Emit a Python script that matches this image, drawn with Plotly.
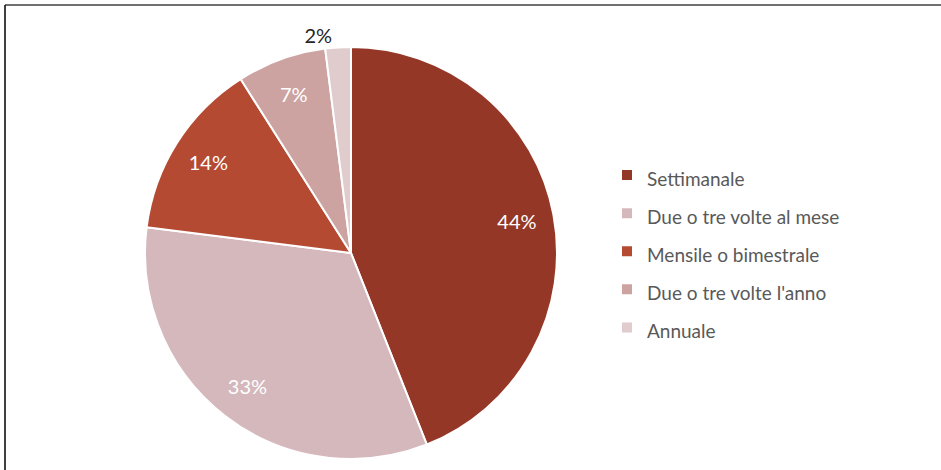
import plotly.graph_objects as go

labels = ["Settimanale", "Due o tre volte al mese", "Mensile o bimestrale",
          "Due o tre volte l'anno", "Annuale"]
values = [44, 33, 14, 7, 2]
colors = ["#943726", "#d5b8bc", "#b54a33", "#cca3a1", "#e0cbcd"]
text_positions = ["inside", "inside", "inside", "inside", "outside"]
text_colors = ["white", "white", "white", "white", "#262626"]

W, H = 941, 470
cx, cy, r = 351, 253, 206
dom = dict(x=[(cx - r) / W, (cx + r) / W],
           y=[(H - cy - r) / H, (H - cy + r) / H])

legend_names = ['<span style="font-size:19px">%s</span>' % s for s in labels]

# full pie with colours and legend
fig = go.Figure(go.Pie(
    labels=legend_names,
    values=values,
    sort=False,
    direction="clockwise",
    rotation=0,
    marker=dict(colors=colors, line=dict(color="white", width=2)),
    textinfo="none",
    hovertemplate="%{label}: %{percent:.0%}<extra></extra>",
    domain=dom,
))

# same pie as transparent ring, only for placing the percentage labels
fig.add_trace(go.Pie(
    labels=legend_names,
    values=values,
    sort=False,
    direction="clockwise",
    rotation=0,
    hole=0.64,
    marker=dict(colors=["rgba(0,0,0,0)"] * len(values),
                line=dict(color="rgba(0,0,0,0)", width=0)),
    texttemplate="%{percent:.0%}",
    textposition=text_positions,
    insidetextorientation="horizontal",
    textfont=dict(family="Lato", size=20, color=text_colors),
    hoverinfo="skip",
    showlegend=False,
    domain=dom,
))

fig.update_layout(
    width=W, height=H,
    margin=dict(l=0, r=0, t=0, b=0),
    paper_bgcolor="white",
    font=dict(family="Lato", color="#595959"),
    legend=dict(
        x=607 / W, xanchor="left",
        y=1 - 151 / H, yanchor="top",
        font=dict(family="Lato", size=27, color="#595959"),
    ),
    shapes=[
        dict(type="line", xref="paper", yref="paper",
             x0=5 / W, x1=1, y0=1 - 5 / H, y1=1 - 5 / H,
             line=dict(color="#404040", width=1.5)),
        dict(type="line", xref="paper", yref="paper",
             x0=5 / W, x1=5 / W, y0=0, y1=1 - 5 / H,
             line=dict(color="#000000", width=1.5)),
    ],
)

fig.write_html("out.html",
               config={"displayModeBar": False},
               post_script="document.body.style.margin='0';")
